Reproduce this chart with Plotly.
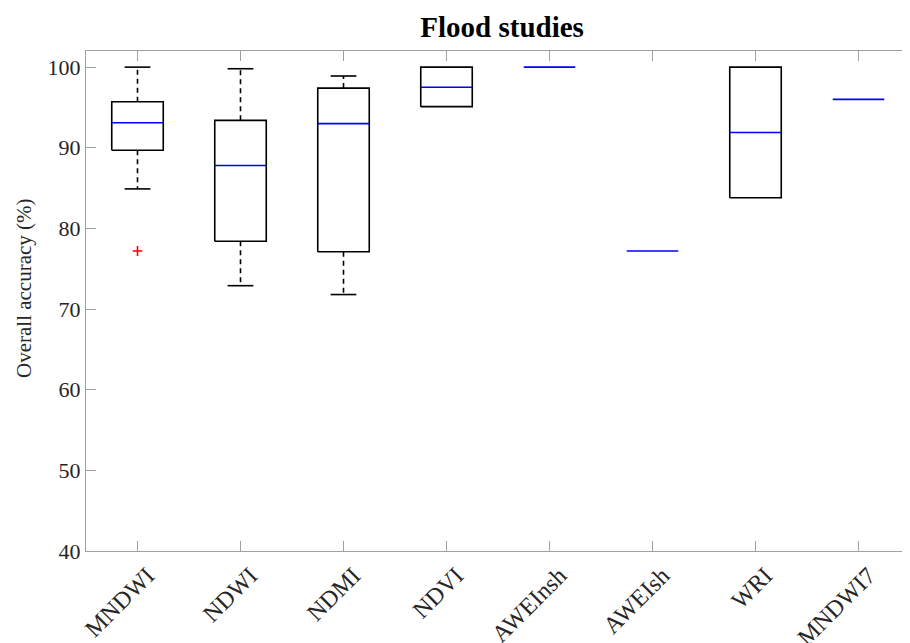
import plotly.graph_objects as go

categories = ["MNDWI", "NDWI", "NDMI", "NDVI", "AWEInsh", "AWEIsh", "WRI", "MNDWI7"]
lower_whisker = [84.9, 72.9, 71.8, 95.1, 100.0, 77.2, 83.8, 96.0]
q1 = [89.7, 78.4, 77.1, 95.1, 100.0, 77.2, 83.8, 96.0]
median = [93.1, 87.8, 93.0, 97.5, 100.0, 77.2, 91.9, 96.0]
q3 = [95.7, 93.4, 97.4, 100.0, 100.0, 77.2, 100.0, 96.0]
upper_whisker = [100.0, 99.8, 98.9, 100.0, 100.0, 77.2, 100.0, 96.0]
outlier_cat = ["MNDWI"]
outlier_val = [77.2]

y_ticks = [40, 50, 60, 70, 80, 90, 100]

FONT = "Liberation Serif"
BOX_HALF = 0.25
CAP_HALF = 0.125

fig = go.Figure()

box_x, box_y = [], []
wh_x, wh_y = [], []
cap_x, cap_y = [], []
med_x, med_y = [], []
for i, c in enumerate(categories):
    p = i + 1
    if q3[i] > q1[i]:
        box_x += [p - BOX_HALF, p + BOX_HALF, p + BOX_HALF, p - BOX_HALF, p - BOX_HALF, None]
        box_y += [q1[i], q1[i], q3[i], q3[i], q1[i], None]
    if upper_whisker[i] > q3[i]:
        wh_x += [p, p, None]
        wh_y += [q3[i], upper_whisker[i], None]
        cap_x += [p - CAP_HALF, p + CAP_HALF, None]
        cap_y += [upper_whisker[i], upper_whisker[i], None]
    if lower_whisker[i] < q1[i]:
        wh_x += [p, p, None]
        wh_y += [q1[i], lower_whisker[i], None]
        cap_x += [p - CAP_HALF, p + CAP_HALF, None]
        cap_y += [lower_whisker[i], lower_whisker[i], None]
    med_x += [p - BOX_HALF, p + BOX_HALF, None]
    med_y += [median[i], median[i], None]

fig.add_trace(go.Scatter(x=wh_x, y=wh_y, mode="lines",
                         line=dict(color="black", width=1.6, dash="5px,4px"),
                         hoverinfo="skip", showlegend=False))
fig.add_trace(go.Scatter(x=cap_x, y=cap_y, mode="lines",
                         line=dict(color="black", width=1.6),
                         hoverinfo="skip", showlegend=False))
fig.add_trace(go.Scatter(x=box_x, y=box_y, mode="lines",
                         line=dict(color="black", width=1.6),
                         hoverinfo="skip", showlegend=False))
fig.add_trace(go.Scatter(x=med_x, y=med_y, mode="lines",
                         line=dict(color="rgb(0,0,255)", width=1.6),
                         hoverinfo="skip", showlegend=False))
fig.add_trace(go.Scatter(x=[categories.index(c) + 1 for c in outlier_cat], y=outlier_val,
                         mode="markers",
                         marker=dict(symbol="cross-thin", size=7, color="red",
                                     line=dict(color="red", width=1.6)),
                         showlegend=False))

fig.add_annotation(text="Overall accuracy (%)", xref="paper", yref="paper",
                   x=0, y=0.526, xshift=-62, xanchor="center", yanchor="middle",
                   textangle=-90, showarrow=False,
                   font=dict(family=FONT, size=21, color="#262626"))

fig.update_layout(
    width=902, height=635,
    margin=dict(l=78, r=0, t=43, b=92, autoexpand=False),
    paper_bgcolor="white", plot_bgcolor="white",
    font=dict(family=FONT, size=21, color="#262626"),
    title=dict(text="<b>Flood studies</b>", xref="paper", x=0.505, xanchor="center",
               yref="container", y=0.970, yanchor="middle",
               font=dict(family=FONT, size=29, color="black")),
    xaxis=dict(range=[0.5, 8.5], tickmode="array", tickvals=list(range(1, len(categories) + 1)),
               ticktext=categories, tickangle=-45, ticks="inside", ticklen=10,
               tickcolor="#a0a0a0", showline=True, linecolor="#a0a0a0", linewidth=1,
               mirror="ticks", showgrid=False, zeroline=False, automargin=False,
               ticklabelshift=10,
               tickfont=dict(family=FONT, size=24, color="#262626")),
    yaxis=dict(range=[40, 102], tickmode="array", tickvals=y_ticks, ticks="inside", ticklen=10,
               tickcolor="#a0a0a0", showline=True, linecolor="#a0a0a0", linewidth=1,
               showgrid=False, zeroline=False, automargin=False,
               tickfont=dict(family=FONT, size=22, color="#262626")),
)

fig.write_html("out.html")
